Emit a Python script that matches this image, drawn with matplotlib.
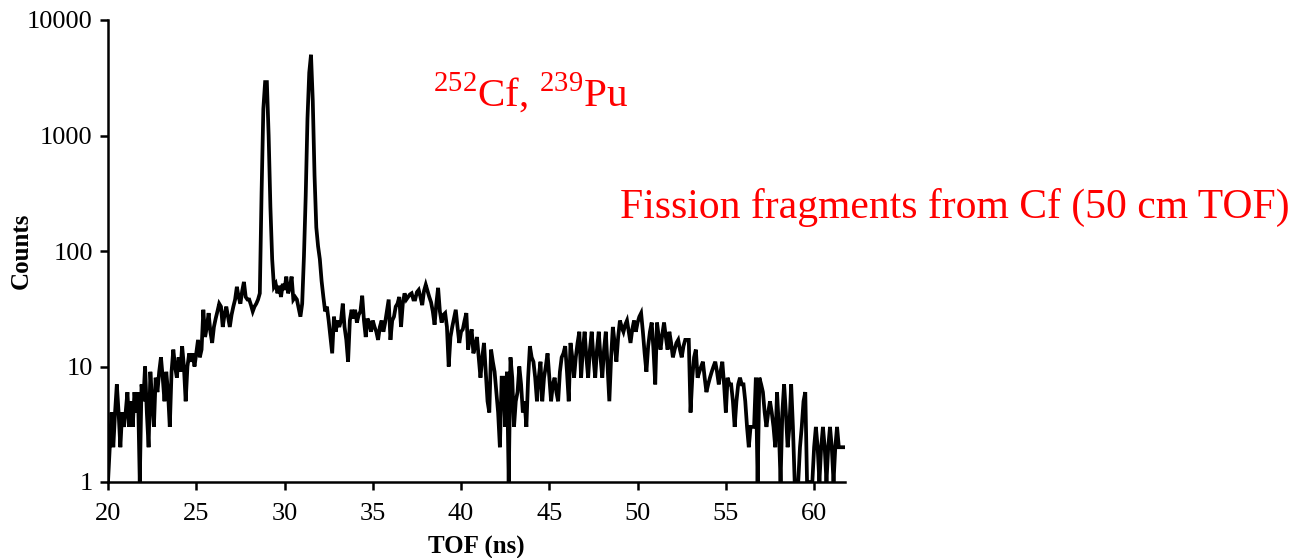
import matplotlib
matplotlib.use("Agg")
import matplotlib.pyplot as plt
import numpy as np
from matplotlib.ticker import FixedLocator, NullLocator, FixedFormatter

plt.rcParams['font.family'] = ['Liberation Serif', 'DejaVu Serif']
plt.rcParams['mathtext.fontset'] = 'custom'
plt.rcParams['mathtext.rm'] = 'Liberation Serif'

# TOF spectrum, 0.1 ns bins starting at 20.0 ns (counts)
tof_start = 20.0
tof_step = 0.1
counts = [
    1, 2, 4, 2, 4, 7, 4, 2, 4, 3,            # 20
    4, 6, 3, 5, 3, 6, 4, 6, 1, 7,            # 21
    5, 10, 4, 2, 9, 5, 3, 8, 6, 9,           # 22
    12, 8, 5, 9, 6, 3, 9, 14, 10, 8,         # 23
    12, 9, 15, 10, 5, 10, 13, 11, 13, 10,    # 24
    13, 17, 12, 14, 31, 18, 22, 29, 20, 16,  # 25
    22, 26, 30, 35, 33, 22, 28, 33, 27, 22,  # 26
    28, 33, 38, 49, 40, 35, 45, 54, 40, 38,  # 27
    38, 34, 30, 33, 35, 38, 43, 320, 1700, 2900,   # 28
    2900, 1000, 240, 85, 49, 52, 43, 50, 40, 52,   # 29
    46, 60, 43, 48, 60, 38, 40, 38, 32, 27,        # 30
    35, 90, 300, 1400, 3500, 5000, 2000, 450, 160, 110,  # 31
    85, 55, 40, 30, 33, 25, 18, 13, 27, 20,  # 32
    25, 22, 25, 35, 22, 17, 11, 25, 31, 26,  # 33
    31, 24, 28, 30, 41, 25, 18, 26, 24, 20,  # 34
    25, 22, 20, 17, 22, 25, 20, 24, 30, 38,  # 35
    17, 25, 27, 33, 35, 40, 22, 35, 43, 38,  # 36
    40, 42, 43, 38, 38, 44, 46, 40, 34, 45,  # 37
    51, 45, 40, 36, 30, 23, 35, 48, 30, 24,  # 38
    28, 29, 22, 10, 18, 22, 26, 31, 22, 16,  # 39
    20, 21, 25, 29, 14, 18, 21, 13, 15, 18,  # 40
    12, 8, 12, 16, 9, 5, 4, 14, 11, 9,       # 41
    6, 4, 2, 8, 8, 3, 9, 1, 12, 8,           # 42
    3, 5, 6, 10, 7, 4, 5, 3, 8, 15,          # 43
    12, 11, 8, 5, 8, 11, 5, 8, 10, 13,       # 44
    8, 5, 7, 8, 6, 5, 9, 12, 13, 15,         # 45
    9, 5, 16, 12, 8, 12, 16, 20, 8, 14,      # 46
    20, 12, 8, 14, 20, 12, 8, 14, 20, 12,    # 47
    8, 14, 20, 10, 5, 12, 22, 16, 11, 18,    # 48
    25, 22, 20, 23, 25, 20, 16, 21, 25, 20,  # 49
    24, 27, 29, 20, 13, 9, 15, 20, 24, 14,   # 50
    7, 24, 18, 14, 19, 24, 18, 14, 20, 16,   # 51
    12, 14, 16, 17, 14, 12, 15, 17, 17, 17,  # 52
    4, 8, 12, 14, 8, 9, 10, 11, 8, 6,        # 53
    7, 8, 9, 10, 11, 9, 7, 9, 11, 7,         # 54
    4, 8, 7, 7, 5, 3, 5, 7, 8, 7,            # 55
    7, 5, 3, 2, 3, 3, 3, 8, 1, 8,            # 56
    7, 6, 4, 3, 4, 5, 4, 3, 2, 6,            # 57
    3, 1, 4, 7, 4, 2, 3, 7, 3, 1,            # 58
    1, 1, 2, 3, 5, 6, 1, 1, 1, 1,            # 59
    2, 3, 2, 1, 2, 3, 2, 1, 2, 3,            # 60
    2, 1, 2, 3, 2, 2, 2, 2,                  # 61
]
tof = np.round(tof_start + tof_step * np.arange(len(counts)), 1)

x_ticks = [20, 25, 30, 35, 40, 45, 50, 55, 60]
y_ticks = [1, 10, 100, 1000, 10000]
y_tick_labels = ["1", "10", "100", "1000", "10000"]

fig = plt.figure(figsize=(13.02, 5.58), dpi=100)
ax = fig.add_axes([108 / 1302, 1 - 482 / 558, (845 - 108) / 1302, (482 - 20) / 558])

ax.plot(tof, counts, color="black", lw=2.7, solid_joinstyle="miter")
ax.set_yscale("log")
ax.set_xlim(20, 61.75)
ax.set_ylim(1, 10000)

ax.xaxis.set_major_locator(FixedLocator(x_ticks))
ax.yaxis.set_major_locator(FixedLocator(y_ticks))
ax.yaxis.set_major_formatter(FixedFormatter(y_tick_labels))
ax.yaxis.set_minor_locator(NullLocator())

for s in ["top", "right"]:
    ax.spines[s].set_visible(False)
for s in ["left", "bottom"]:
    ax.spines[s].set_linewidth(1.8)
ax.tick_params(axis="both", which="major", direction="out", length=6, width=1.8,
               labelsize=19)
ax.tick_params(axis="x", pad=9)
ax.tick_params(axis="y", pad=5)

ax.set_xlabel("TOF (ns)", fontsize=18, fontweight="bold", labelpad=8)
ax.set_ylabel("Counts", fontsize=18, fontweight="bold")
# put the y label at the same place as the reference (it sits beside "100")
ax.yaxis.set_label_coords((33 - 108) / 737, 0.5)

fig.text(433 / 1302, 1 - 106 / 558, r"$^{252}$Cf, $^{239}$Pu", color="red",
         fontsize=29.5, ha="left", va="baseline")
fig.text(620 / 1302, 1 - 218 / 558, "Fission fragments from Cf (50 cm TOF)",
         color="red", fontsize=30, ha="left", va="baseline")

fig.savefig("out.png", dpi=100)
